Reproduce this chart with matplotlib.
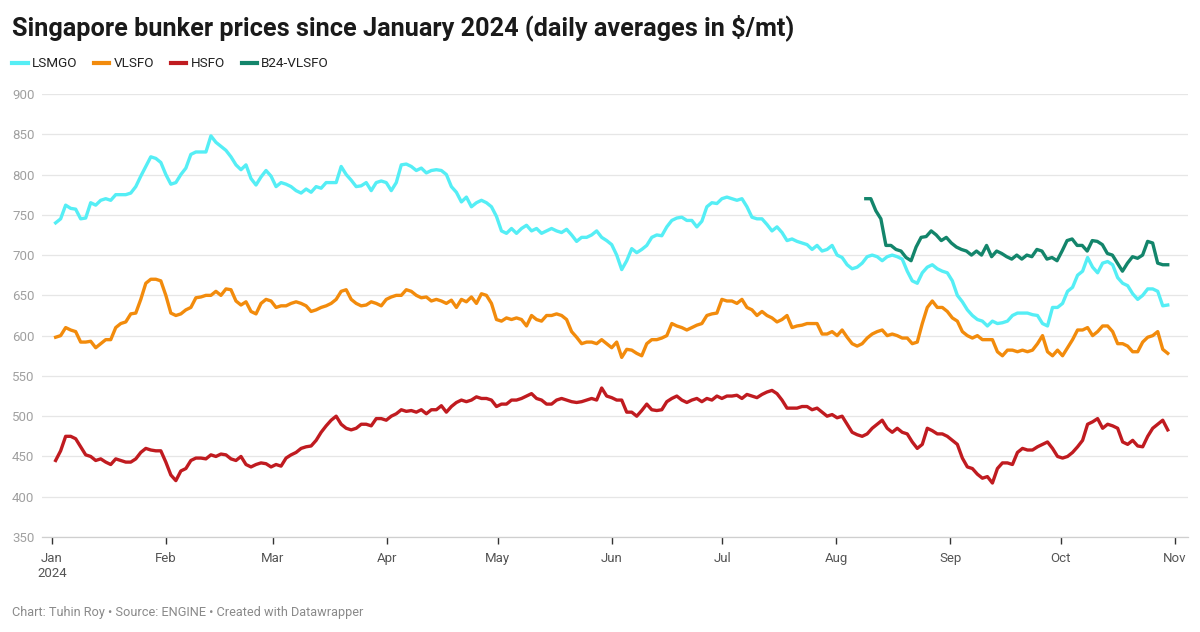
import numpy as np
import pandas as pd
import matplotlib
matplotlib.use("Agg")
import matplotlib.pyplot as plt
import matplotlib.dates as mdates
from matplotlib.lines import Line2D

# daily averages, Jan 2 -> Oct 30 2024
lsmgo = [740, 745, 762, 758, 757, 745, 746, 765, 762, 768, 770, 768, 775, 775, 775, 777,
         785, 798, 810, 822, 820, 815, 800, 788, 790, 800, 808, 825, 828, 828, 828, 848,
         840, 835, 830, 822, 812, 806, 812, 795, 787, 797, 805, 798, 785, 790, 788, 785,
         780, 777, 782, 778, 785, 783, 790, 790, 790, 810, 800, 793, 785, 786, 790, 780,
         790, 792, 790, 780, 790, 812, 813, 810, 805, 808, 802, 805, 806, 805, 800, 785,
         778, 766, 772, 760, 765, 768, 765, 760, 748, 730, 727, 733, 727, 733, 737, 730,
         733, 727, 730, 733, 730, 728, 732, 725, 717, 722, 722, 725, 730, 722, 718, 713,
         700, 682, 693, 708, 703, 707, 712, 722, 725, 724, 735, 743, 746, 747, 743, 743,
         735, 742, 760, 765, 764, 770, 772, 770, 768, 770, 760, 747, 745, 745, 738, 730,
         735, 728, 718, 720, 717, 715, 713, 707, 712, 705, 707, 712, 700, 697, 688, 683,
         685, 690, 698, 700, 698, 693, 698, 700, 698, 695, 680, 668, 665, 678, 685, 688,
         683, 680, 678, 668, 650, 642, 632, 625, 620, 618, 612, 618, 615, 616, 618, 625,
         628, 628, 628, 626, 625, 615, 612, 635, 635, 640, 655, 660, 675, 680, 697, 685,
         678, 690, 692, 688, 672, 665, 662, 652, 645, 650, 658, 658, 655, 637, 638]

vlsfo = [598, 600, 610, 607, 605, 592, 592, 593, 585, 590, 595, 595, 610, 615, 617, 627,
         628, 645, 665, 670, 670, 668, 650, 628, 625, 627, 632, 635, 647, 648, 650, 650,
         655, 650, 658, 657, 643, 638, 642, 630, 627, 640, 645, 643, 635, 637, 637, 640,
         642, 640, 637, 630, 632, 635, 637, 640, 645, 655, 657, 645, 640, 637, 638, 642,
         640, 637, 645, 648, 650, 650, 657, 655, 650, 647, 648, 643, 645, 643, 640, 644,
         635, 645, 642, 648, 640, 652, 650, 640, 620, 618, 622, 620, 622, 620, 612, 625,
         620, 618, 625, 625, 627, 625, 620, 605, 598, 590, 592, 592, 590, 595, 590, 585,
         592, 573, 583, 582, 578, 575, 590, 595, 595, 597, 600, 615, 612, 610, 607, 610,
         613, 615, 625, 627, 628, 645, 643, 643, 640, 645, 635, 632, 625, 630, 625, 622,
         617, 620, 625, 610, 612, 613, 615, 615, 615, 602, 602, 605, 600, 607, 598, 590,
         587, 590, 597, 602, 605, 607, 600, 602, 600, 597, 597, 590, 592, 615, 635, 643,
         635, 635, 630, 622, 618, 605, 600, 597, 600, 595, 595, 595, 580, 575, 582, 582,
         580, 582, 580, 582, 590, 600, 580, 575, 582, 575, 585, 595, 607, 607, 610, 600,
         605, 612, 612, 605, 590, 590, 587, 580, 580, 592, 598, 600, 605, 583, 578]

hsfo = [445, 457, 475, 475, 472, 462, 452, 450, 445, 447, 443, 440, 447, 445, 443, 443,
        447, 455, 460, 458, 457, 457, 443, 427, 420, 432, 435, 445, 448, 448, 447, 452,
        450, 453, 452, 447, 445, 450, 440, 437, 440, 442, 441, 437, 440, 438, 448, 452,
        455, 460, 462, 463, 470, 480, 488, 495, 500, 490, 485, 483, 485, 490, 490, 488,
        497, 497, 495, 500, 503, 508, 506, 507, 505, 508, 503, 508, 508, 513, 505, 512,
        517, 520, 518, 520, 524, 522, 522, 520, 512, 515, 515, 520, 520, 522, 525, 528,
        522, 520, 515, 515, 520, 522, 520, 518, 517, 518, 520, 522, 520, 535, 525, 523,
        520, 520, 505, 505, 500, 507, 515, 508, 507, 508, 518, 522, 525, 520, 517, 520,
        522, 518, 522, 520, 525, 522, 525, 525, 526, 522, 527, 525, 523, 527, 530, 532,
        528, 520, 510, 510, 510, 512, 512, 508, 510, 505, 500, 502, 498, 500, 490, 480,
        477, 475, 478, 485, 490, 495, 485, 480, 485, 480, 478, 468, 460, 465, 485, 482,
        478, 478, 475, 470, 465, 448, 437, 435, 428, 423, 425, 417, 435, 442, 442, 440,
        455, 460, 458, 458, 462, 465, 468, 460, 450, 448, 450, 455, 462, 470, 490, 493,
        497, 485, 490, 488, 485, 468, 465, 470, 463, 462, 475, 485, 490, 495, 483]

# B24-VLSFO only reported from Aug 9
b24 = [770, 770, 755, 745, 712, 712, 707, 705, 697, 693, 710, 722, 723, 730, 725, 718,
       722, 715, 710, 707, 705, 700, 705, 700, 712, 698, 705, 702, 698, 695, 700, 695,
       700, 698, 707, 705, 695, 697, 693, 705, 718, 720, 712, 712, 705, 718, 717, 713,
       702, 700, 690, 680, 690, 698, 696, 700, 717, 715, 690, 688, 688]

months = ["Jan\n2024", "Feb", "Mar", "Apr", "May", "Jun", "Jul", "Aug", "Sep", "Oct", "Nov"]
yticks = [350, 400, 450, 500, 550, 600, 650, 700, 750, 800, 850, 900]

dates = pd.date_range("2024-01-02", "2024-10-30", periods=len(lsmgo))
dates_b24 = pd.date_range("2024-08-09", "2024-10-30", periods=len(b24))

plt.rcParams["font.family"] = ["Roboto", "DejaVu Sans"]

fig = plt.figure(figsize=(12, 6.32), dpi=100)
ax = fig.add_axes([0.035, 0.1503, 0.955, 0.701])

lw = 2.4
ax.plot(dates, lsmgo, color="#55eef5", lw=lw, solid_joinstyle="round")
ax.plot(dates, vlsfo, color="#f28b0c", lw=lw, solid_joinstyle="round")
ax.plot(dates, hsfo, color="#c01b20", lw=lw, solid_joinstyle="round")
ax.plot(dates_b24, b24, color="#13856b", lw=lw, solid_joinstyle="round")

ax.set_ylim(350, 900)
ax.set_xlim(pd.Timestamp("2024-01-01") - pd.Timedelta(days=2.7),
            pd.Timestamp("2024-11-01") + pd.Timedelta(days=3.5))

ax.set_yticks(yticks)
ax.set_yticklabels([str(v) for v in yticks])
ax.tick_params(axis="y", length=0, pad=21.6, labelsize=9.5, labelcolor="#a0a0a0")
for lab in ax.get_yticklabels():
    lab.set_horizontalalignment("left")
ax.grid(axis="y", color="#e6e6e6", lw=0.9)
ax.set_axisbelow(True)

month_ticks = pd.date_range("2024-01-01", "2024-11-01", freq="MS")
ax.set_xticks(month_ticks)
ax.set_xticklabels(months)
ax.tick_params(axis="x", length=5, width=1, color="#333333", pad=6,
               labelsize=9.5, labelcolor="#555555")

for s in ["top", "right", "left"]:
    ax.spines[s].set_visible(False)
ax.spines["bottom"].set_color("#cfcfcf")
ax.spines["bottom"].set_linewidth(0.9)

fig.text(0.01, 0.957, "Singapore bunker prices since January 2024 (daily averages in \\$/mt)",
         fontsize=18.2, fontweight="bold", color="#1a1a1a", va="center", ha="left")

handles = [Line2D([0], [0], color=c, lw=3) for c in ["#55eef5", "#f28b0c", "#c01b20", "#13856b"]]
fig.legend(handles, ["LSMGO", "VLSFO", "HSFO", "B24-VLSFO"], loc="center left",
           bbox_to_anchor=(0.0, 0.899), ncol=4, frameon=False, fontsize=9.7,
           handlelength=1.15, handletextpad=0.3, columnspacing=1.25, labelcolor="#222222")

fig.text(0.01, 0.031, "Chart: Tuhin Roy • Source: ENGINE • Created with Datawrapper",
         fontsize=9.2, color="#8a8a8a", va="center", ha="left")

fig.savefig("out.png", dpi=100)
